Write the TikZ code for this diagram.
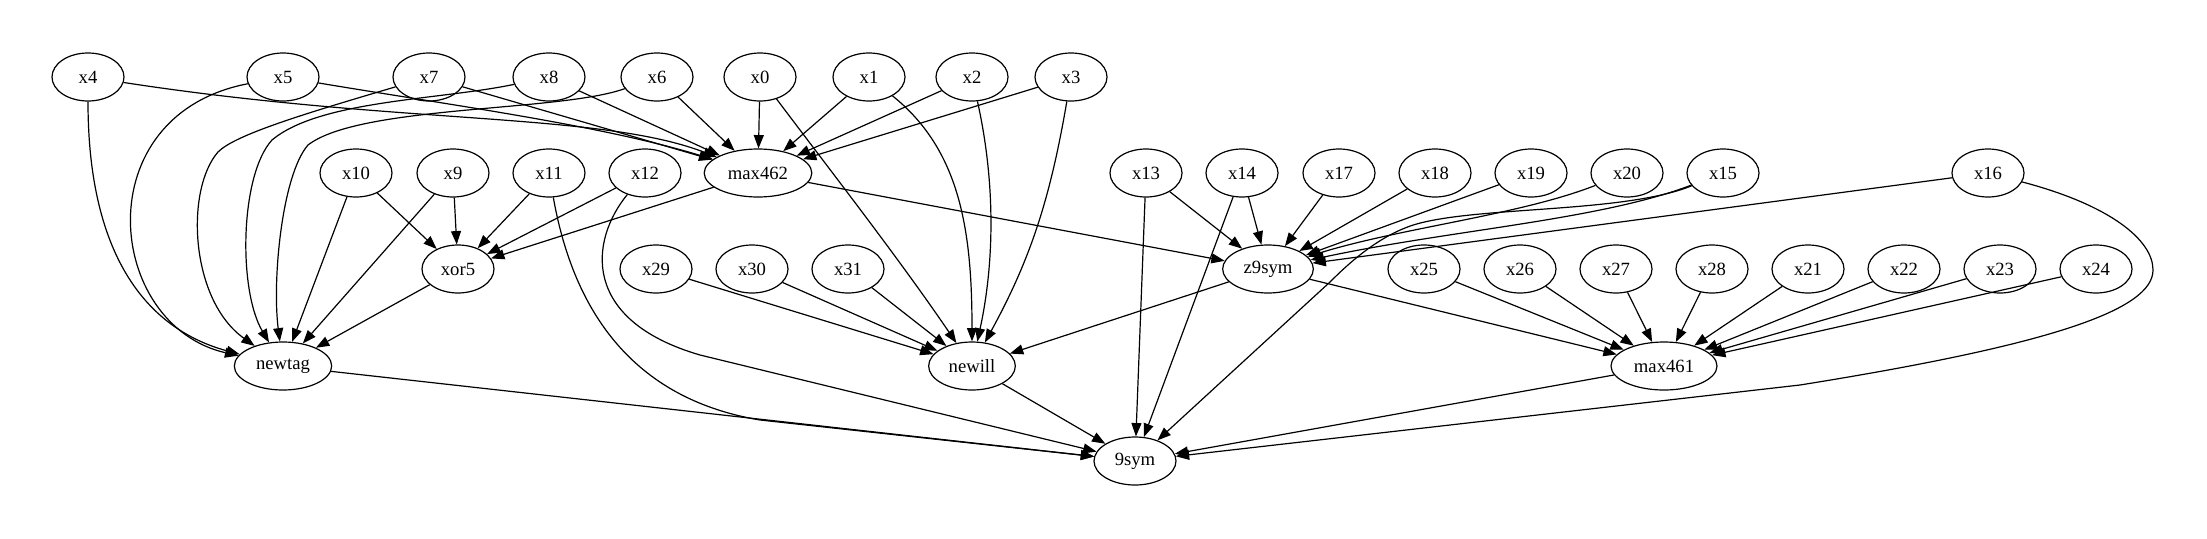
\documentclass[tikz,border=0pt]{standalone}
\usepackage{fontspec}
\setmainfont{Liberation Serif}
\usetikzlibrary{shapes.geometric,arrows.meta}
\begin{document}
\begin{tikzpicture}[x=0.75pt,y=-0.75pt,
  gv/.style={draw,ellipse,line width=0.9pt,minimum width=54pt,minimum height=36pt,inner sep=0pt,font=\fontsize{14}{16}\selectfont},
  e/.style={line width=0.9pt,-{Triangle[length=10pt,width=7.5pt]}}]
\useasboundingbox (0,0) rectangle (2207,539);
% rank 0
\node[gv] (x4) at (88,77) {x4};
\node[gv] (x5) at (283,77) {x5};
\node[gv] (x7) at (429,77) {x7};
\node[gv] (x8) at (549,77) {x8};
\node[gv] (x6) at (657,77) {x6};
\node[gv] (x0) at (760,77) {x0};
\node[gv] (x1) at (869,77) {x1};
\node[gv] (x2) at (972,77) {x2};
\node[gv] (x3) at (1071,77) {x3};
% rank 1
\node[gv] (x10) at (356,173) {x10};
\node[gv] (x9) at (453,173) {x9};
\node[gv] (x11) at (549,173) {x11};
\node[gv] (x12) at (645,173) {x12};
\node[gv,minimum width=80.7pt] (max462) at (758,173) {max462};
\node[gv] (x13) at (1146,173) {x13};
\node[gv] (x14) at (1242,173) {x14};
\node[gv] (x17) at (1339,173) {x17};
\node[gv] (x18) at (1435,173) {x18};
\node[gv] (x19) at (1531,173) {x19};
\node[gv] (x20) at (1627,173) {x20};
\node[gv] (x15) at (1723,173) {x15};
\node[gv] (x16) at (1988,173) {x16};
% rank 2
\node[gv] (xor5) at (458,269) {xor5};
\node[gv] (x29) at (656,269) {x29};
\node[gv] (x30) at (752,269) {x30};
\node[gv] (x31) at (848,269) {x31};
\node[gv,minimum width=68pt] (z9sym) at (1268,269) {z9sym};
\node[gv] (x25) at (1424,269) {x25};
\node[gv] (x26) at (1520,269) {x26};
\node[gv] (x27) at (1616,269) {x27};
\node[gv] (x28) at (1712,269) {x28};
\node[gv] (x21) at (1808,269) {x21};
\node[gv] (x22) at (1904,269) {x22};
\node[gv] (x23) at (2000,269) {x23};
\node[gv] (x24) at (2096,269) {x24};
% rank 3
\node[gv,minimum width=73pt] (newtag) at (283,366) {newtag};
\node[gv,minimum width=65pt] (newill) at (972,366) {newill};
\node[gv,minimum width=79.5pt] (max461) at (1664,366) {max461};
% rank 4
\node[gv,minimum width=61.5pt] (n9sym) at (1135,461) {9sym};

% into max462
\draw[e] (x4) .. controls (400,125) and (600,112) .. (max462);
\draw[e] (x5) .. controls (450,105) and (600,125) .. (max462);
\draw[e] (x7) -- (max462);
\draw[e] (x8) -- (max462);
\draw[e] (x6) -- (max462);
\draw[e] (x0) -- (max462);
\draw[e] (x1) -- (max462);
\draw[e] (x2) -- (max462);
\draw[e] (x3) -- (max462);
% into newtag
\draw[e] (x4) .. controls (88,260) and (150,330) .. (newtag);
\draw[e] (x5) .. controls (85,115) and (105,325) .. (newtag);
\draw[e] (x7) .. controls (300,115) and (235,135) .. (218,152) .. controls (185,190) and (190,300) .. (newtag);
\draw[e] (x8) .. controls (440,100) and (320,100) .. (272,140) .. controls (240,175) and (238,290) .. (newtag);
\draw[e] (x6) .. controls (560,112) and (360,105) .. (308,145) .. controls (282,175) and (272,280) .. (newtag);
\draw[e] (x10) -- (newtag);
\draw[e] (x9) -- (newtag);
\draw[e] (xor5) -- (newtag);
% into xor5
\draw[e] (x10) -- (xor5);
\draw[e] (x9) -- (xor5);
\draw[e] (x11) -- (xor5);
\draw[e] (x12) -- (xor5);
\draw[e] (max462) -- (xor5);
% into 9sym
\draw[e] (newtag) -- (n9sym);
\draw[e] (x11) .. controls (575,320) and (640,400) .. (760,420) -- (n9sym);
\draw[e] (x12) .. controls (590,240) and (580,320) .. (700,355) -- (n9sym);
\draw[e] (newill) -- (n9sym);
\draw[e] (x13) -- (n9sym);
\draw[e] (x14) -- (n9sym);
\draw[e] (x15) .. controls (1620,215) and (1460,205) .. (1405,228) .. controls (1375,240) and (1350,262) .. (1330,282) -- (n9sym);
\draw[e] (x16) .. controls (2110,205) and (2153,240) .. (2153,270) .. controls (2153,310) and (2050,345) .. (1800,385) -- (n9sym);
\draw[e] (max461) -- (n9sym);
% into newill
\draw[e] (x29) -- (newill);
\draw[e] (x30) -- (newill);
\draw[e] (x31) -- (newill);
\draw[e] (x0) .. controls (830,170) and (900,260) .. (newill);
\draw[e] (x1) .. controls (960,150) and (972,230) .. (newill);
\draw[e] (x2) .. controls (995,180) and (995,260) .. (newill);
\draw[e] (x3) .. controls (1050,200) and (1030,260) .. (newill);
\draw[e] (z9sym) -- (newill);
% into z9sym
\draw[e] (max462) -- (z9sym);
\draw[e] (x13) -- (z9sym);
\draw[e] (x14) -- (z9sym);
\draw[e] (x17) -- (z9sym);
\draw[e] (x18) -- (z9sym);
\draw[e] (x19) -- (z9sym);
\draw[e] (x20) .. controls (1520,215) and (1400,228) .. (z9sym);
\draw[e] (x15) .. controls (1600,220) and (1450,230) .. (z9sym);
\draw[e] (x16) -- (z9sym);
% into max461
\draw[e] (z9sym) -- (max461);
\draw[e] (x25) -- (max461);
\draw[e] (x26) -- (max461);
\draw[e] (x27) -- (max461);
\draw[e] (x28) -- (max461);
\draw[e] (x21) -- (max461);
\draw[e] (x22) -- (max461);
\draw[e] (x23) -- (max461);
\draw[e] (x24) -- (max461);
\end{tikzpicture}
\end{document}
